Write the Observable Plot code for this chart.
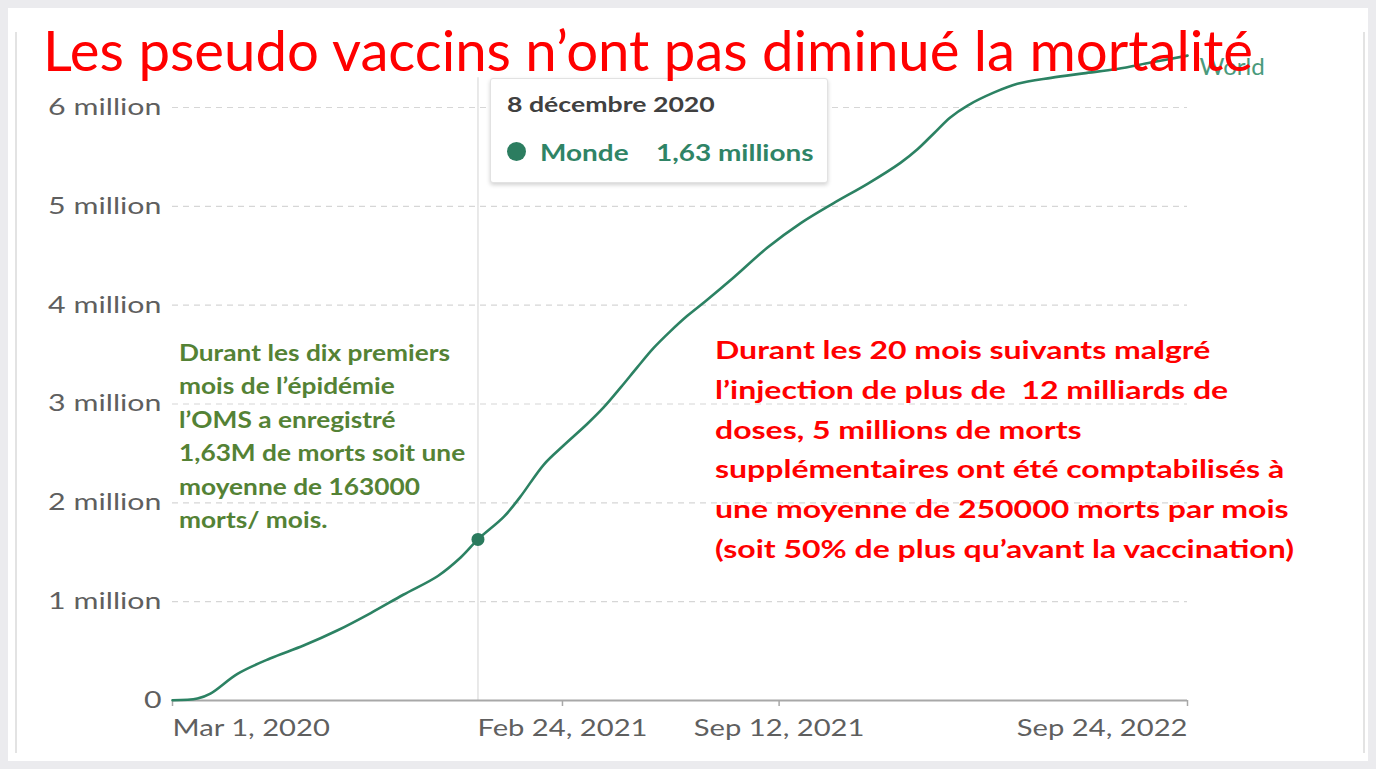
<!DOCTYPE html>
<html><head><meta charset="utf-8">
<script src="https://cdn.jsdelivr.net/npm/d3@7"></script>
<script src="https://cdn.jsdelivr.net/npm/@observablehq/plot@0.6"></script>
<style>
html,body{margin:0;padding:0;background:#ebebee;width:1376px;height:769px;overflow:hidden;font-family:Lato,"Open Sans",sans-serif;}
#card{position:absolute;left:8px;top:8px;width:1360px;height:753px;background:#fff;}
#frame{position:absolute;left:15px;top:32px;width:1350px;height:721px;border-left:2px solid #e3e3e3;border-right:2px solid #e3e3e3;box-sizing:border-box;}
#chart{position:absolute;left:0;top:0;}
.fit{position:absolute;white-space:pre;transform-origin:0 0;}
#title{left:43px;top:22px;font-size:56px;line-height:56px;color:#ff0000;font-weight:400;}
#green{left:179px;top:336px;font-size:22px;line-height:33.4px;color:#548235;font-weight:700;}
#red{left:715px;top:330px;font-size:24px;line-height:39.8px;color:#ff0000;font-weight:700;}
#tip{position:absolute;left:490px;top:78px;width:338px;height:105px;background:#fff;border:1px solid #e2e2e2;border-radius:3px;box-shadow:0 2px 4px rgba(0,0,0,0.18);box-sizing:border-box;}
.tt{position:absolute;white-space:nowrap;transform-origin:0 0;font-weight:700;}
#tipdate{left:16px;top:12px;font-size:21px;color:#404040;}
#tipdot{position:absolute;left:16px;top:63px;width:19px;height:19px;border-radius:50%;background:#2c7d60;}
#tipname{left:49px;top:60px;font-size:22px;color:#2f8466;}
#tipval{left:165px;top:60px;font-size:22px;color:#2f8466;}
</style></head>
<body>
<div id="card"></div>
<div id="frame"></div>
<div id="chart"></div>
<div id="tip"><div id="tipdate" class="tt"></div><div id="tipdot"></div><div id="tipname" class="tt"></div><div id="tipval" class="tt"></div></div>
<div id="green" class="fit"></div>
<div id="red" class="fit"></div>
<div id="title" class="fit"></div>
<script>
// ---- data (cumulative confirmed COVID-19 deaths, World) ----
const dates = ["2020-03-01","2020-03-24","2020-04-05","2020-04-30","2020-05-30","2020-06-30","2020-07-31","2020-08-31","2020-09-30","2020-11-01","2020-11-22","2020-12-08","2021-01-01","2021-01-16","2021-02-07","2021-02-25","2021-03-19","2021-04-03","2021-04-19","2021-05-04","2021-05-19","2021-06-04","2021-06-19","2021-07-06","2021-08-01","2021-09-01","2021-10-02","2021-11-01","2021-12-03","2022-01-02","2022-01-18","2022-02-02","2022-02-17","2022-03-05","2022-03-29","2022-04-20","2022-05-21","2022-06-20","2022-07-21","2022-08-21","2022-09-24"];
const deaths = [3000,20000,70000,270000,425000,556000,708000,885000,1070000,1260000,1447000,1630000,1860000,2060000,2390000,2580000,2800000,2965000,3170000,3370000,3565000,3740000,3890000,4040000,4280000,4580000,4830000,5030000,5230000,5440000,5580000,5740000,5900000,6020000,6150000,6240000,6300000,6345000,6390000,6455000,6525000];
const seriesName = "World";
const xTickDates = ["2020-03-01","2021-02-24","2021-09-12","2022-09-24"];
const xTickLabels = ["Mar 1, 2020","Feb 24, 2021","Sep 12, 2021","Sep 24, 2022"];
const yTicks = [0,1000000,2000000,3000000,4000000,5000000,6000000];
const yTickLabels = ["0","1 million","2 million","3 million","4 million","5 million","6 million"];
const highlightDate = "2020-12-08";
const highlightValue = 1630000;
const tooltipDate = "8 décembre 2020";
const tooltipName = "Monde";
const tooltipValue = "1,63 millions";
const title = "Les pseudo vaccins n’ont pas diminué la mortalité";
const greenLines = ["Durant les dix premiers","mois de l’épidémie","l’OMS a enregistré","1,63M de morts soit une","moyenne de 163000","morts/ mois."];
const redLines = ["Durant les 20 mois suivants malgré","l’injection de plus de  12 milliards de","doses, 5 millions de morts","supplémentaires ont été comptabilisés à","une moyenne de 250000 morts par mois","(soit 50% de plus qu’avant la vaccination)"];

const data = dates.map((d,i)=>({date:new Date(d), deaths:deaths[i]}));
const xStart = new Date(xTickDates[0]), xEnd = new Date(xTickDates[xTickDates.length-1]);
const ticks = xTickDates.map((d,i)=>({date:new Date(d), label:xTickLabels[i], i}));
const yt = yTicks.map((v,i)=>({v, label:yTickLabels[i]}));
const hl = [{date:new Date(highlightDate), deaths:highlightValue}];
const last = [data[data.length-1]];
const green = "#2c8263";
const tickGray = "#5f5f5f";

const chart = Plot.plot({
  width:1376, height:769,
  marginLeft:172, marginRight:189, marginTop:40, marginBottom:69,
  x:{type:"utc", domain:[xStart,xEnd], range:[172,1187]},
  y:{domain:[0,6000000], range:[700,107], axis:null},
  style:{background:"transparent", fontFamily:"Lato, sans-serif"},
  marks:[
    Plot.ruleY(yTicks.slice(1), {x1:xStart, x2:xEnd, stroke:"#d6d6d6", strokeWidth:1.2, strokeDasharray:"6,5"}),
    Plot.ruleX(hl, {x:"date", y1:0, y2:6300000, stroke:"#e2e2e2", strokeWidth:1.5}),
    Plot.text(yt, {x:xStart, y:"v", text:"label", dx:-11, textAnchor:"end", fontSize:23, fill:tickGray}),
    Plot.axisX({ticks:ticks.map(t=>t.date), tickSize:6, tickFormat:()=>"", stroke:"#a8a8a8", strokeWidth:1.5, label:null}),
    Plot.ruleY([0], {x1:xStart, x2:xEnd, stroke:"#a8a8a8", strokeWidth:2}),
    Plot.text(ticks.filter(t=>t.i===0), {x:"date", y:0, text:"label", dy:28, textAnchor:"start", fontSize:23, fill:tickGray}),
    Plot.text(ticks.filter(t=>t.i>0 && t.i<ticks.length-1), {x:"date", y:0, text:"label", dy:28, textAnchor:"middle", fontSize:23, fill:tickGray}),
    Plot.text(ticks.filter(t=>t.i===ticks.length-1), {x:"date", y:0, text:"label", dy:28, textAnchor:"end", fontSize:23, fill:tickGray}),
    Plot.line(data, {x:"date", y:"deaths", stroke:green, strokeWidth:2.6, curve:"catmull-rom"}),
    Plot.dot(hl, {x:"date", y:"deaths", r:6.5, fill:"#2a7a5d"}),
    Plot.text(last, {x:"date", y:"deaths", text:()=>seriesName, dx:12, dy:12, textAnchor:"start", fontSize:23, fill:"#4a9a7c"})
  ]
});
document.getElementById("chart").appendChild(chart);

// widen the tick labels horizontally (the reference font is wider than Lato)
chart.querySelectorAll("text").forEach(t=>{
  if (!t.textContent) return;
  const sx = t.textContent === seriesName ? 1.05 : (yTickLabels.includes(t.textContent) ? 1.32 : 1.27);
  const tr = t.getAttribute("transform");
  if (tr) t.setAttribute("transform", tr + ` scale(${sx},1)`);
  else {
    const x = +(t.getAttribute("x")||0), y = +(t.getAttribute("y")||0);
    t.setAttribute("transform", `translate(${x},${y}) scale(${sx},1) translate(${-x},${-y})`);
  }
});

document.getElementById("tipdate").textContent = tooltipDate;
document.getElementById("tipname").textContent = tooltipName;
document.getElementById("tipval").textContent = tooltipValue;
document.querySelectorAll(".tt").forEach(e=>e.style.transform="scaleX(1.27)");
document.getElementById("title").textContent = title;
document.getElementById("green").innerHTML = greenLines.map(l=>`<div>${l}</div>`).join("");
document.getElementById("red").innerHTML = redLines.map(l=>`<div>${l}</div>`).join("");

function measure(el){ const s=document.createElement("span"); s.style.cssText="white-space:pre;"; s.textContent=el.textContent; el.textContent=""; el.appendChild(s); const w=s.getBoundingClientRect().width; el.textContent=s.textContent; return w; }
function fitBlock(id, lineIdx, target){
  const el=document.getElementById(id);
  const divs=el.querySelectorAll("div");
  const ref = divs.length ? divs[lineIdx] : el;
  const w = measure(ref);
  el.style.transform = `scaleX(${target/w})`;
}
fitBlock("title", 0, 1210);
fitBlock("green", 0, 271);
fitBlock("red", 5, 579);
</script>
</body></html>
